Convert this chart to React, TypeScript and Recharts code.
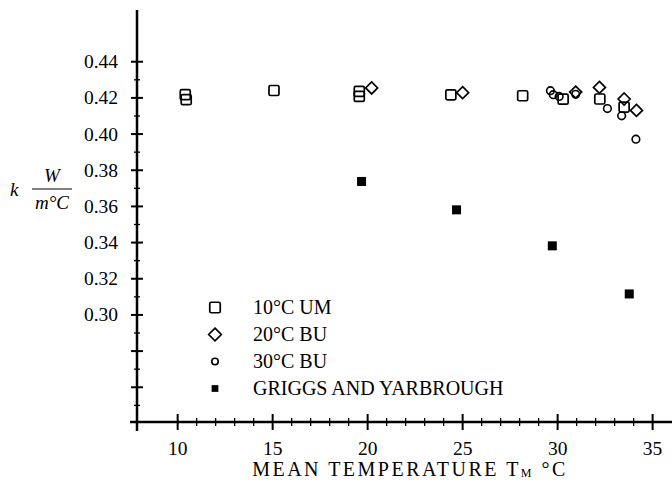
import { ScatterChart, Scatter, XAxis, YAxis, Legend } from 'recharts'

const FONT = '"Liberation Serif", "Times New Roman", serif'

// thermal conductivity k (W/m°C) against mean temperature (°C)
const um10 = [
  { t: 10.4, k: 0.4218 }, { t: 10.45, k: 0.419 }, { t: 15.07, k: 0.4241 },
  { t: 19.56, k: 0.4236 }, { t: 19.56, k: 0.4208 }, { t: 24.38, k: 0.4217 },
  { t: 28.16, k: 0.4212 }, { t: 30.29, k: 0.4193 }, { t: 32.22, k: 0.4194 },
  { t: 33.5, k: 0.4149 },
]
const bu20 = [
  { t: 20.21, k: 0.4255 }, { t: 25.0, k: 0.4229 }, { t: 30.95, k: 0.4232 },
  { t: 32.2, k: 0.4258 }, { t: 33.5, k: 0.4194 }, { t: 34.15, k: 0.4131 },
]
const bu30 = [
  { t: 29.62, k: 0.424 }, { t: 29.77, k: 0.4218 }, { t: 30.08, k: 0.4208 },
  { t: 30.95, k: 0.422 }, { t: 32.62, k: 0.4141 }, { t: 33.37, k: 0.4101 },
  { t: 34.12, k: 0.3972 },
]
const griggs = [
  { t: 19.68, k: 0.3738 }, { t: 24.68, k: 0.3581 }, { t: 29.72, k: 0.3382 }, { t: 33.77, k: 0.3116 },
]

const seriesNames = ['10°C UM', '20°C BU', '30°C BU', 'GRIGGS AND YARBROUGH']

const xTicks = [10, 11, 12, 13, 14, 15, 16, 17, 18, 19, 20, 21, 22, 23, 24, 25, 26, 27, 28, 29, 30, 31, 32, 33, 34, 35]
const xLabels = [10, 15, 20, 25, 30, 35]
const yTicks = [0.25, 0.26, 0.27, 0.28, 0.29, 0.3, 0.31, 0.32, 0.33, 0.34, 0.35, 0.36, 0.37, 0.38, 0.39, 0.4, 0.41, 0.42, 0.43, 0.44]
const yLabels = [0.3, 0.32, 0.34, 0.36, 0.38, 0.4, 0.42, 0.44]

const shapes: Record<string, (cx: number, cy: number, s?: number) => any> = {
  '10°C UM': (cx, cy, s = 1) => (
    <rect x={cx - 5 * s} y={cy - 5 * s} width={10 * s} height={10 * s} rx={1.5} fill="none" stroke="#000" strokeWidth={1.7} />
  ),
  '20°C BU': (cx, cy, s = 1) => (
    <path d={`M${cx},${cy - 6 * s} L${cx + 6 * s},${cy} L${cx},${cy + 6 * s} L${cx - 6 * s},${cy} Z`} fill="none" stroke="#000" strokeWidth={1.7} />
  ),
  '30°C BU': (cx, cy, s = 1) => <circle cx={cx} cy={cy} r={3.8 * s} fill="none" stroke="#000" strokeWidth={1.6} />,
  'GRIGGS AND YARBROUGH': (cx, cy, s = 1) => (
    <rect x={cx - 4.5 * s} y={cy - 4.5 * s} width={9 * s} height={9 * s} fill="#000" />
  ),
}

function YTick({ x, y, payload }: any) {
  const v = Math.round(payload.value * 100)
  const major = v % 2 === 0
  const len = major ? 6 : 3
  const lab = yLabels.find((l) => Math.round(l * 100) === v)
  return (
    <g>
      <line x1={x - len} x2={x + len} y1={y} y2={y} stroke="#000" strokeWidth={major ? 2 : 1.3} />
      {lab !== undefined && (
        <text x={x - 19} y={y + 6.5} textAnchor="end" fontFamily={FONT} fontSize={19.5} fill="#000">
          {lab.toFixed(2)}
        </text>
      )}
    </g>
  )
}

function XTick({ x, y, payload }: any) {
  const v = payload.value
  const major = v % 5 === 0
  const len = major ? 8 : 4
  return (
    <g>
      <line x1={x} x2={x} y1={y - len} y2={y + len} stroke="#000" strokeWidth={major ? 2 : 1.3} />
      {xLabels.includes(v) && (
        <text x={x} y={y + 33} textAnchor="middle" fontFamily={FONT} fontSize={19.5} fill="#000">
          {v}
        </text>
      )}
    </g>
  )
}

function LegendBox({ payload }: any) {
  return (
    <div style={{ fontFamily: FONT, fontSize: 20, color: '#000' }}>
      {(payload || []).map((p: any) => (
        <div key={p.value} style={{ display: 'flex', alignItems: 'center', height: 27 }}>
          <svg width={30} height={27}>
            {shapes[p.value](15, 13.5, p.value === 'GRIGGS AND YARBROUGH' ? 0.75 : p.value === '30°C BU' ? 0.85 : 1.05)}
          </svg>
          <span style={{ marginLeft: 23, lineHeight: '27px' }}>{p.value}</span>
        </div>
      ))}
    </div>
  )
}

export default function App() {
  const sets = [um10, bu20, bu30, griggs]
  return (
    <div style={{ position: 'relative', width: 672, height: 484, background: '#fff' }}>
      <style>{`body{margin:0}`}</style>
      <ScatterChart width={672} height={484} margin={{ top: 10, right: 0, bottom: 0, left: 0 }}>
        <XAxis
          type="number"
          dataKey="t"
          domain={[7.86, 36.02]}
          ticks={xTicks}
          interval={0}
          tickSize={0}
          tickMargin={0}
          tickLine={false}
          tick={<XTick />}
          height={62}
          axisLine={{ stroke: '#000', strokeWidth: 2.5 }}
          allowDataOverflow
        />
        <YAxis
          type="number"
          dataKey="k"
          domain={[0.2408, 0.4686]}
          ticks={yTicks}
          interval={0}
          tickSize={0}
          tickMargin={0}
          tickLine={false}
          tick={<YTick />}
          width={137}
          axisLine={{ stroke: '#000', strokeWidth: 2.5 }}
          allowDataOverflow
        />
        <Legend
          layout="horizontal"
          verticalAlign="middle"
          align="center"
          content={<LegendBox />}
          wrapperStyle={{ left: 200, top: 294, width: 340 }}
        />
        {sets.map((d, i) => (
          <Scatter
            key={seriesNames[i]}
            name={seriesNames[i]}
            data={d}
            isAnimationActive={false}
            shape={(p: any) => shapes[seriesNames[i]](p.cx, p.cy)}
          />
        ))}
      </ScatterChart>
      <svg width={672} height={484} style={{ position: 'absolute', left: 0, top: 0, pointerEvents: 'none' }}>
        <line x1={137} x2={137} y1={421} y2={431} stroke="#000" strokeWidth={2.5} />
        <line x1={130} x2={138} y1={422} y2={422} stroke="#000" strokeWidth={2.5} />
        <g fontFamily={FONT} fontStyle="italic" fill="#000" fontSize={19}>
          <text x={10} y={196}>k</text>
          <text x={52} y={182} textAnchor="middle">W</text>
          <line x1={32} x2={72} y1={189} y2={189} stroke="#000" strokeWidth={1.2} />
          <text x={52} y={209} textAnchor="middle">m°C</text>
        </g>
        <text x={410} y={476} textAnchor="middle" fontFamily={FONT} fontSize={20} letterSpacing={2.5} fill="#000">
          MEAN TEMPERATURE T<tspan fontSize={12} dy={1}>M</tspan>
          <tspan dy={-1}> °C</tspan>
        </text>
      </svg>
    </div>
  )
}
